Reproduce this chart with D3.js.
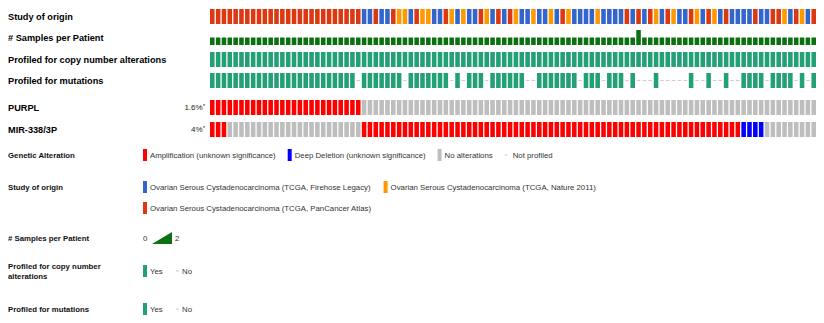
<!DOCTYPE html>
<html>
<head>
<meta charset="utf-8">
<script src="https://cdn.jsdelivr.net/npm/d3@7"></script>
<style>
  body { margin: 0; background: #fff; }
  svg { font-family: "Liberation Sans", Arial, sans-serif; }
</style>
</head>
<body>
<div id="chart"></div>
<script>
// one letter per patient column: P = PanCancer Atlas, F = Firehose Legacy, N = Nature 2011
const studyOfOrigin = ("PPPPPPPPPPPPPPPPPPPPPPPPPP" + "FFPFFPNNF" + "PNNFFPNFNFFPNFPFPNFFNF" +
    "FNFPNFFFFNFFFFPFPFPNFPNF" + "FPNFPNFPFFFFPFFPPNFPNFP").split("");

const samplesPerPatient = ("1111111111" + "1111111111" + "1111111111" + "1111111111" +
    "1111111111" + "1111111111" + "1111111111" + "111" + "2" +
    "1111111111" + "1111111111" + "1111111111").split("").map(Number);

const profiledCna = ("1111111111" + "1111111111" + "1111111111" + "1111111111" + "1111111111" +
    "1111111111" + "1111111111" + "1111111111" + "1111111111" + "1111111111" + "1111").split("").map(Number);

const profiledMutations = ("1111111111111111111111111" + "0" + "1111111" + "0" + "1111111" + "0" + "1" + "0" +
    "111" + "0" + "111111" + "00" + "1111111" + "0" + "111" + "0" + "111" + "0" + "1" + "000" + "1" +
    "00000" + "1" + "00" + "1" + "00" + "1" + "00" + "1111" + "0" + "1111" + "0" + "1" + "0" + "1").split("").map(Number);

// gene rows as runs of (alteration, number of patients)
const purplRuns = [["amp", 26], ["none", 78]];
const mirRuns = [["amp", 3], ["none", 23], ["amp", 65], ["del", 4], ["none", 9]];

const trackLabels = ["Study of origin", "# Samples per Patient", "Profiled for copy number alterations",
    "Profiled for mutations", "PURPL", "MIR-338/3P"];
const genePercents = ["1.6%", "4%"];

const alterationLegend = [
    {key: "amp", label: "Amplification (unknown significance)"},
    {key: "del", label: "Deep Deletion (unknown significance)"},
    {key: "none", label: "No alterations"},
    {key: "np", label: "Not profiled"}
];
const studyLegend = [
    {key: "F", label: "Ovarian Serous Cystadenocarcinoma (TCGA, Firehose Legacy)"},
    {key: "N", label: "Ovarian Serous Cystadenocarcinoma (TCGA, Nature 2011)"},
    {key: "P", label: "Ovarian Serous Cystadenocarcinoma (TCGA, PanCancer Atlas)"}
];
const samplesRange = [0, 2];

function expandRuns(runs) {
    let out = [];
    for (let r of runs) {
        for (let k = 0; k < r[1]; k++) out.push(r[0]);
    }
    return out;
}
const purpl = expandRuns(purplRuns);
const mir = expandRuns(mirRuns);

const width = 824;
const height = 323;

const alterationColor = {amp: "#ff0000", del: "#0000ff", none: "#bebebe"};
const studyColor = d3.scaleOrdinal().domain(["F", "N", "P"]).range(["#3366cc", "#ff9900", "#dc3912"]);
const profiledColor = "#23a077";
const notProfiledColor = "#dcc6c6";
const samplesColor = "#0b7010";

const svg = d3.select("#chart")
    .append("svg")
    .attr("width", width)
    .attr("height", height);

const x = d3.scaleBand()
    .domain(d3.range(studyOfOrigin.length))
    .range([210, 816])
    .paddingInner(0.22);

const trackTop = [9, 30, 52, 73, 100, 122];
const trackH = 15;

// labels on the left
svg.append("g")
    .selectAll("text")
    .data(trackLabels)
    .enter()
    .append("text")
    .attr("x", 8)
    .attr("y", function(d, i) { return trackTop[i] + trackH / 2; })
    .attr("dy", "0.35em")
    .attr("font-size", "9.2px")
    .attr("font-weight", "bold")
    .attr("fill", "#000")
    .text(function(d) { return d; });

genePercents.forEach(function(p, i) {
    let t = svg.append("text")
        .attr("x", 205)
        .attr("y", trackTop[4 + i] + trackH / 2)
        .attr("dy", "0.35em")
        .attr("text-anchor", "end")
        .attr("font-size", "8px")
        .attr("fill", "#222");
    t.append("tspan").text(p);
    t.append("tspan").attr("font-size", "6px").attr("dy", "-2").text("*");
});

function notProfiled(g, data, row) {
    g.selectAll("rect.np")
        .data(data.map(function(v, i) { return {v: v, i: i}; }).filter(function(d) { return !d.v; }))
        .enter()
        .append("rect")
        .attr("class", "np")
        .attr("x", function(d) { return x(d.i) + 0.5; })
        .attr("y", trackTop[row] + trackH / 2 - 0.5)
        .attr("width", x.bandwidth() - 1)
        .attr("height", 1)
        .attr("fill", notProfiledColor);
}

// study of origin
svg.append("g")
    .selectAll("rect")
    .data(studyOfOrigin)
    .enter()
    .append("rect")
    .attr("x", function(d, i) { return x(i); })
    .attr("y", trackTop[0])
    .attr("width", x.bandwidth())
    .attr("height", trackH)
    .attr("fill", function(d) { return studyColor(d); });

// samples per patient
const ySamples = d3.scaleLinear().domain(samplesRange).range([trackTop[1] + trackH, trackTop[1]]);
svg.append("g")
    .selectAll("rect")
    .data(samplesPerPatient)
    .enter()
    .append("rect")
    .attr("x", function(d, i) { return x(i); })
    .attr("y", function(d) { return ySamples(d); })
    .attr("width", x.bandwidth())
    .attr("height", function(d) { return ySamples(0) - ySamples(d); })
    .attr("fill", samplesColor);

// profiled tracks
[[profiledCna, 2], [profiledMutations, 3]].forEach(function(pair) {
    let g = svg.append("g");
    g.selectAll("rect.yes")
        .data(pair[0].map(function(v, i) { return {v: v, i: i}; }).filter(function(d) { return d.v; }))
        .enter()
        .append("rect")
        .attr("class", "yes")
        .attr("x", function(d) { return x(d.i); })
        .attr("y", trackTop[pair[1]])
        .attr("width", x.bandwidth())
        .attr("height", trackH)
        .attr("fill", profiledColor);
    notProfiled(g, pair[0], pair[1]);
});

// gene tracks
[[purpl, 4], [mir, 5]].forEach(function(pair) {
    svg.append("g")
        .selectAll("rect")
        .data(pair[0])
        .enter()
        .append("rect")
        .attr("x", function(d, i) { return x(i); })
        .attr("y", trackTop[pair[1]])
        .attr("width", x.bandwidth())
        .attr("height", trackH)
        .attr("fill", function(d) { return alterationColor[d]; });
});

// ---- legends ----
const legX = 143;
function legendTitle(lines, y) {
    let t = svg.append("text")
        .attr("x", 8)
        .attr("y", y)
        .attr("font-size", "7.8px")
        .attr("font-weight", "bold")
        .attr("fill", "#111");
    lines.forEach(function(l, k) {
        t.append("tspan").attr("x", 8).attr("dy", k === 0 ? "0.35em" : "1.35em").text(l);
    });
}
function legendText(xx, y, s) {
    return svg.append("text")
        .attr("x", xx)
        .attr("y", y)
        .attr("dy", "0.35em")
        .attr("font-size", "7.8px")
        .attr("fill", "#333")
        .text(s);
}
function swatch(xx, y, color) {
    svg.append("rect").attr("x", xx).attr("y", y - 6).attr("width", 4).attr("height", 12).attr("fill", color);
}
function dash(xx, y) {
    svg.append("rect").attr("x", xx).attr("y", y - 0.5).attr("width", 3).attr("height", 1).attr("fill", notProfiledColor);
}

// genetic alteration
legendTitle(["Genetic Alteration"], 155);
let cx = legX;
alterationLegend.forEach(function(item) {
    if (item.key === "np") {
        dash(cx, 155);
        let t = legendText(cx + 8, 155, item.label);
        cx += 8 + t.node().getComputedTextLength() + 12;
    } else {
        swatch(cx, 155, alterationColor[item.key]);
        let t = legendText(cx + 7, 155, item.label);
        cx += 7 + t.node().getComputedTextLength() + 12;
    }
});

// study of origin
legendTitle(["Study of origin"], 187);
cx = legX;
let cy = 187;
studyLegend.forEach(function(item) {
    let w = 7 + item.label.length * 4;
    if (cx + w > 620) { cx = legX; cy += 21; }
    swatch(cx, cy, studyColor(item.key));
    let t = legendText(cx + 7, cy, item.label);
    cx += 7 + t.node().getComputedTextLength() + 13;
});

// samples per patient
legendTitle(["# Samples per Patient"], 238);
legendText(legX, 238, String(samplesRange[0]));
svg.append("path")
    .attr("d", d3.line()([[152, 244], [172, 244], [172, 232]]) + "Z")
    .attr("fill", samplesColor);
legendText(175, 238, String(samplesRange[1]));

// profiled legends
function yesNo(y) {
    swatch(legX, y, profiledColor);
    legendText(150, y, "Yes");
    dash(176, y);
    legendText(182, y, "No");
}
legendTitle(["Profiled for copy number", "alterations"], 266);
yesNo(271);
legendTitle(["Profiled for mutations"], 309);
yesNo(309);
</script>
</body>
</html>
